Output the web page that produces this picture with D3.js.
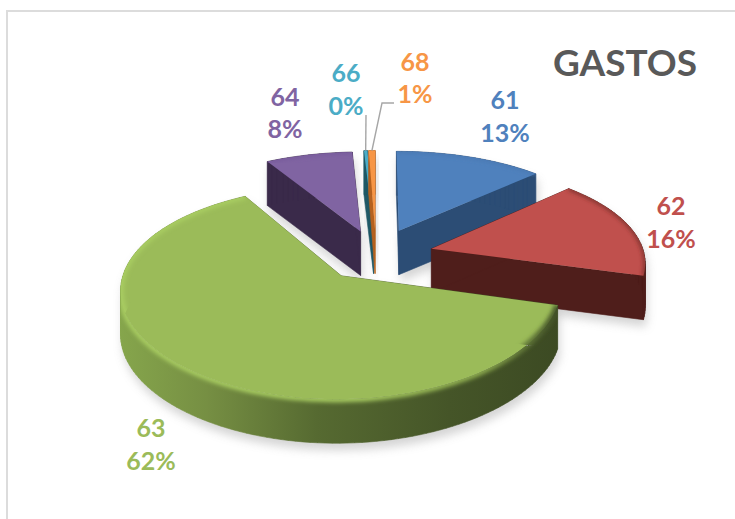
<!DOCTYPE html>
<html>
<head>
<meta charset="utf-8">
<script src="https://cdn.jsdelivr.net/npm/d3@7"></script>
<style>
    html, body { margin: 0; padding: 0; background: #fff; overflow: hidden; }
    svg { display: block; }
    text { font-family: Lato, "Open Sans", sans-serif; font-weight: 700; }
</style>
</head>
<body>
<div id="chart"></div>
<script>
var title = "GASTOS";
var categories = ["61", "62", "63", "64", "66", "68"];
var values = [12.9, 16.45, 62.25, 7.55, 0.3, 0.55];

var colors = ["#4f81bd", "#c0504d", "#9bbb59", "#8064a2", "#4bacc6", "#f79646"];
var wallColors = ["#2c4d75", "#4f1e1b", "#5f7535", "#3a2a4a", "#1f5866", "#b5611f"];
var rimColors = ["#4877b0", "#6e2926", "url(#green-rim)", "#75599a", "#3b8ea5", "#d9822f"];

var width = 735, height = 519;

/* проекція: еліпс з перспективою */
var cx = 376, cy = 255, R = 213, tilt = 0.46, perspX = 0.12, perspY = 0.15, depth = 44;
var explode = [0.28, 0.27, 0.26, 0.26, 0.27, 0.27];
var drawOrder = [3, 4, 5, 0, 1, 2];

/* підписи: x, базова лінія номера, базова лінія відсотка */
var labelLayout = [
    [505, 109, 142],
    [671, 215, 248],
    [151, 437, 470],
    [285, 106, 138],
    [346, 82, 115],
    [415, 71, 103]
];

var svg = d3.select("#chart").append("svg")
    .attr("width", width)
    .attr("height", height);

var defs = svg.append("defs");

defs.append("filter").attr("id", "shadow-blur")
    .attr("x", "-20%").attr("y", "-20%").attr("width", "140%").attr("height", "140%")
    .append("feGaussianBlur").attr("stdDeviation", 5);

defs.append("filter").attr("id", "rim-blur")
    .attr("x", "-10%").attr("y", "-10%").attr("width", "120%").attr("height", "120%")
    .append("feGaussianBlur").attr("stdDeviation", 2);

function hGradient(id, stops) {
    var g = defs.append("linearGradient").attr("id", id)
        .attr("gradientUnits", "userSpaceOnUse")
        .attr("x1", 118).attr("x2", 560).attr("y1", 0).attr("y2", 0);
    stops.forEach(function(s) {
        g.append("stop").attr("offset", s[0]).attr("stop-color", s[1]);
    });
}

hGradient("green-wall", [[0, "#86a64c"], [0.2, "#768f43"], [0.45, "#566a31"], [0.75, "#455528"], [1, "#3c4a23"]]);
hGradient("green-rim", [[0, "#a9cd62"], [0.55, "#a9cd62"], [0.82, "#8fae50"], [1, "#3f4e26"]]);

/* фрейм */
svg.append("path")
    .attr("d", "M7,519V11H735")
    .attr("fill", "none")
    .attr("stroke", "#dcdcdc")
    .attr("stroke-width", 2);

var pie = d3.pie().sort(null).value(function(d) { return d; });
var arcs = pie(values);
var total = d3.sum(values);
var pct = d3.format(".0%");

function project(u, v) {
    return [cx + R * u / (1 + perspX * v), cy - R * tilt * v / (1 + perspY * v)];
}

/* точка на диску у координатах сектора з урахуванням зміщення */
function slicePoint(i, angle, r) {
    var mid = (arcs[i].startAngle + arcs[i].endAngle) / 2;
    return project(
        explode[i] * Math.sin(mid) + r * Math.sin(angle),
        explode[i] * Math.cos(mid) + r * Math.cos(angle)
    );
}

function arcPoints(i) {
    var a = arcs[i];
    var n = Math.max(2, Math.ceil((a.endAngle - a.startAngle) / 0.03));
    return d3.range(n + 1).map(function(k) {
        return slicePoint(i, a.startAngle + (a.endAngle - a.startAngle) * k / n, 1);
    });
}

function outline(i) {
    return [slicePoint(i, 0, 0)].concat(arcPoints(i));
}

function lower(p) {
    return [p[0], p[1] + depth];
}

var line = d3.line();

/* стінки: всі чотирикутники в одному напрямку обходу, щоб не було дірок */
function wallPath(i) {
    var pts = outline(i), d = "";
    pts.forEach(function(p, k) {
        var q = pts[(k + 1) % pts.length];
        var quad = [p, q, lower(q), lower(p)];
        if (d3.polygonArea(quad) < 0) quad.reverse();
        d += line(quad) + "Z";
    });
    return d;
}

/* тіні */
svg.append("g").selectAll("path")
    .data(drawOrder)
    .enter()
    .append("path")
    .attr("d", wallPath)
    .attr("transform", "translate(2,7)")
    .attr("fill", "#9a9a9a")
    .attr("opacity", 0.42)
    .attr("filter", "url(#shadow-blur)");

drawOrder.forEach(function(i) {
    defs.append("clipPath").attr("id", "clip-" + i)
        .append("path").attr("d", wallPath(i));
});

var slices = svg.append("g").selectAll("g")
    .data(drawOrder)
    .enter()
    .append("g");

slices.append("path")
    .attr("d", wallPath)
    .attr("fill", function(i) { return i === 2 ? "url(#green-wall)" : wallColors[i]; })
    .attr("stroke", function(i) { return i === 2 ? "url(#green-wall)" : wallColors[i]; })
    .attr("stroke-width", 0.6);

slices.append("path")
    .attr("d", function(i) { return line(outline(i)) + "Z"; })
    .attr("fill", function(i) { return colors[i]; });

slices.append("g")
    .attr("clip-path", function(i) { return "url(#clip-" + i + ")"; })
    .append("path")
    .attr("d", function(i) { return line(arcPoints(i)); })
    .attr("fill", "none")
    .attr("stroke", function(i) { return rimColors[i]; })
    .attr("stroke-width", function(i) { return i === 2 ? 6 : 3; })
    .attr("filter", "url(#rim-blur)");

/* лінії-виноски */
var leaders = [
    { i: 4, from: [366, 115] },
    { i: 5, from: [394, 103], elbow: [382, 103] }
];

svg.append("g").selectAll("path")
    .data(leaders)
    .enter()
    .append("path")
    .attr("d", function(d) {
        var a = arcs[d.i];
        var end = slicePoint(d.i, (a.startAngle + a.endAngle) / 2, 1);
        return line(d.elbow ? [d.from, d.elbow, end] : [d.from, end]);
    })
    .attr("fill", "none")
    .attr("stroke", "#a6a6a6")
    .attr("stroke-width", 1.4);

/* підписи */
var labels = svg.append("g").selectAll("g")
    .data(categories)
    .enter()
    .append("g")
    .attr("text-anchor", "middle")
    .attr("font-size", 25)
    .attr("fill", function(d, i) { return colors[i]; });

labels.append("text")
    .attr("x", function(d, i) { return labelLayout[i][0]; })
    .attr("y", function(d, i) { return labelLayout[i][1]; })
    .text(function(d) { return d; });

labels.append("text")
    .attr("x", function(d, i) { return labelLayout[i][0]; })
    .attr("y", function(d, i) { return labelLayout[i][2]; })
    .text(function(d, i) { return pct(values[i] / total); });

svg.append("text")
    .attr("x", 625)
    .attr("y", 76)
    .attr("text-anchor", "middle")
    .attr("font-size", 37)
    .attr("fill", "#595959")
    .text(title);
</script>
</body>
</html>
